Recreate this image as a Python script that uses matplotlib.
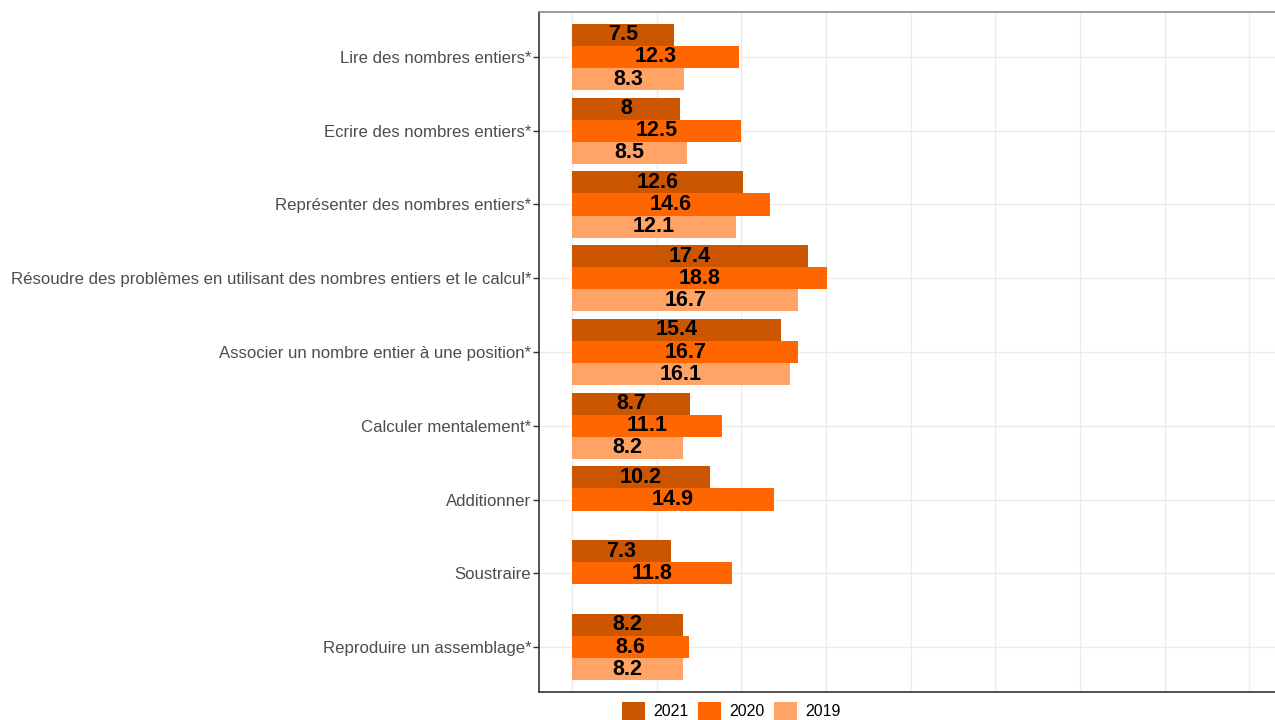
import numpy as np
import matplotlib
matplotlib.use("Agg")
import matplotlib.pyplot as plt
from matplotlib.patches import Patch

categories = [
    "Lire des nombres entiers*",
    "Ecrire des nombres entiers*",
    "Représenter des nombres entiers*",
    "Résoudre des problèmes en utilisant des nombres entiers et le calcul*",
    "Associer un nombre entier à une position*",
    "Calculer mentalement*",
    "Additionner",
    "Soustraire",
    "Reproduire un assemblage*",
]
years = ["2021", "2020", "2019"]
v2021 = [7.5, 8, 12.6, 17.4, 15.4, 8.7, 10.2, 7.3, 8.2]
v2020 = [12.3, 12.5, 14.6, 18.8, 16.7, 11.1, 14.9, 11.8, 8.6]
v2019 = [8.3, 8.5, 12.1, 16.7, 16.1, 8.2, None, None, 8.2]

colors = ["#CC5500", "#FF6600", "#FFA366"]

plt.rcParams['font.family'] = ['Liberation Sans', 'DejaVu Sans']

fig = plt.figure(figsize=(12.75, 7.2), dpi=100)
ax = fig.add_axes([539 / 1275, 1 - 692 / 720, 1 - 539 / 1275 + 0.01, 680 / 720])

n = len(categories)
ypos = np.arange(n, 0, -1)  # first category on top
h = 0.3
offsets = [h, 0, -h]

for series, col, off in zip([v2021, v2020, v2019], colors, offsets):
    for y, v in zip(ypos, series):
        if v is None:
            continue
        ax.barh(y + off, v, height=h, color=col, edgecolor="none", zorder=2)
        lab = "%g" % v
        ax.text(v / 2, y + off, lab, ha="center", va="center", fontsize=15.5,
                fontweight="bold", color="black", zorder=3)

ax.set_xlim(-2.44, 51.9 + 0.01 * 1275 / 13.55)
ax.set_ylim(0.39, n + 0.61)
ax.set_yticks(ypos)
ax.set_yticklabels(categories, fontsize=12.1, color="#4D4D4D")
ax.set_xticks(np.arange(0, 55, 6.25))
ax.tick_params(axis="x", length=0, labelbottom=False)
ax.tick_params(axis="y", length=4, color="#333333", width=1, pad=1.5)

ax.grid(True, color="#EBEBEB", linewidth=1, zorder=0)
ax.set_axisbelow(True)
for s in ["left", "bottom"]:
    ax.spines[s].set_color("#333333")
    ax.spines[s].set_linewidth(1.2)
ax.spines["top"].set_color("#8C8C8C")
ax.spines["top"].set_linewidth(1.2)
ax.spines["right"].set_visible(False)

handles = [Patch(facecolor=c, edgecolor="none", label=y) for c, y in zip(colors, years)]
fig.legend(handles=handles, loc="center", bbox_to_anchor=(731 / 1275, 1 - 711 / 720),
           ncol=3, frameon=False, fontsize=11.5, handlelength=1.45, handleheight=1.45,
           handletextpad=0.5, columnspacing=0.6, borderaxespad=0, borderpad=0)

fig.savefig("out.png", dpi=100)
